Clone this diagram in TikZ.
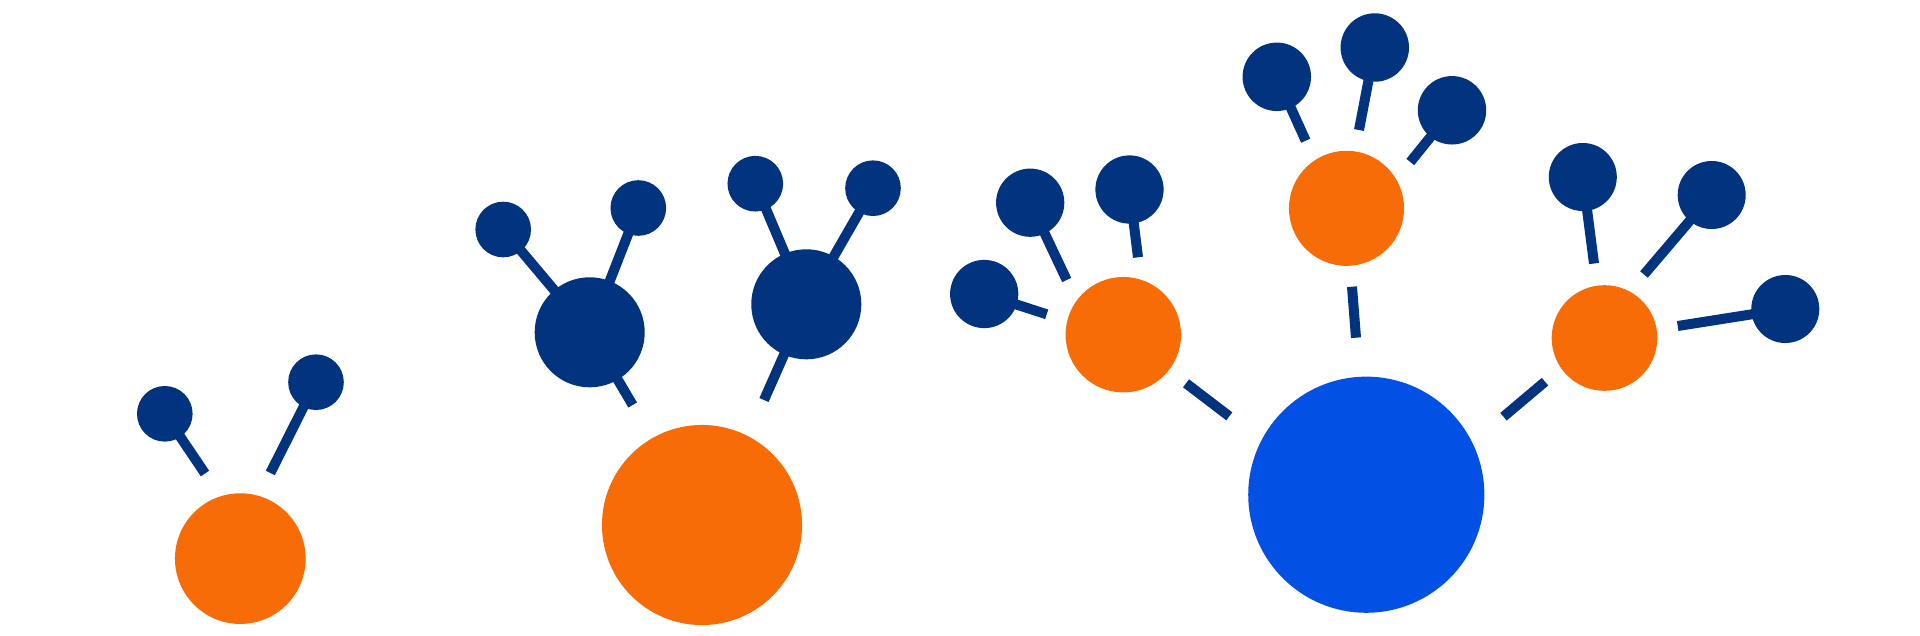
\documentclass[tikz,border=0pt]{standalone}
\definecolor{navy}{RGB}{2,51,127}
\definecolor{orng}{RGB}{248,108,8}
\definecolor{azure}{RGB}{2,80,228}
\begin{document}
\begin{tikzpicture}[x=.01cm,y=-.01cm,line cap=butt,
	 link/.style={navy,line width=1mm},
	 sat/.style={circle,inner sep=0pt,fill=navy,minimum size=#1},
	 hub/.style={circle,inner sep=0pt,fill=orng,minimum size=#1}]
	 \fill[white] (0,0) rectangle (1920,636);
	 % left group
	 \node[hub=1.306cm] (h1) at (240.3,558.6) {};
	 \node[sat=.556cm] (a1) at (164.8,413.8) {};
	 \node[sat=.556cm] (a2) at (316,382.2) {};
	 \coordinate (a1e) at (205,473.5);
	 \coordinate (a2e) at (270.3,473);
	 \draw[link] (a1.center)--(a1e) (a2.center)--(a2e);
	 % second group
	 \node[hub=2cm] (h2) at (702,525) {};
	 \node[sat=1.1cm] (e) at (589.7,332.3) {};
	 \node[sat=1.1cm] (f) at (806.3,304.3) {};
	 \node[sat=.556cm] (c) at (503.2,229.5) {};
	 \node[sat=.556cm] (d) at (638.3,208) {};
	 \node[sat=.556cm] (g1) at (755.3,183.7) {};
	 \node[sat=.556cm] (g2) at (873,188.2) {};
	 \coordinate (ee) at (632.7,405);
	 \coordinate (fe) at (764,400);
	 \draw[link] (c.center)--(e.center) (d.center)--(e.center)
	 (g1.center)--(f.center) (g2.center)--(f.center)
	 (e.center)--(ee) (f.center)--(fe);
	 % third group
	 \node[hub=1.154cm] (k) at (1123.3,334.7) {};
	 \node[sat=.682cm] (h) at (984.2,294) {};
	 \node[sat=.682cm] (i) at (1030.2,202.7) {};
	 \node[sat=.682cm] (j) at (1129.5,189.5) {};
	 \coordinate (he) at (1046.7,314.3);
	 \coordinate (ie) at (1066.7,280);
	 \coordinate (je) at (1138,257.3);
	 \draw[link] (h.center)--(he) (i.center)--(ie) (j.center)--(je);
	 % right group
	 \node[circle,inner sep=0pt,fill=azure,minimum size=2.36cm] (core) at (1366.3,494.7) {};
	 \node[hub=1.15cm] (p) at (1346.5,208.3) {};
	 \node[hub=1.056cm] (t) at (1604.5,338) {};
	 \node[sat=.684cm] (m) at (1276.8,76.8) {};
	 \node[sat=.684cm] (n) at (1374.8,47.5) {};
	 \node[sat=.684cm] (o) at (1452,110.3) {};
	 \node[sat=.68cm] (r) at (1582.8,177) {};
	 \node[sat=.68cm] (s) at (1711.7,195) {};
	 \node[sat=.68cm] (u) at (1785.3,309) {};
	 \coordinate (me) at (1305.7,140.7);
	 \coordinate (ne) at (1359,130);
	 \coordinate (oe) at (1410.3,162);
	 \coordinate (re) at (1594,263.5);
	 \coordinate (se) at (1644,274.5);
	 \coordinate (ue) at (1677.7,326);
	 \draw[link] (m.center)--(me) (n.center)--(ne) (o.center)--(oe)
	 (r.center)--(re) (s.center)--(se) (u.center)--(ue);
	 % hubs to core
	 \coordinate (kc1) at (1186,383.3);
	 \coordinate (kc2) at (1229.3,416.3);
	 \coordinate (pc1) at (1352,286.7);
	 \coordinate (pc2) at (1356,337.7);
	 \coordinate (tc1) at (1545,381.7);
	 \coordinate (tc2) at (1503.5,416.7);
	 \draw[link] (kc1)--(kc2) (pc1)--(pc2) (tc1)--(tc2);
\end{tikzpicture}
\end{document}
